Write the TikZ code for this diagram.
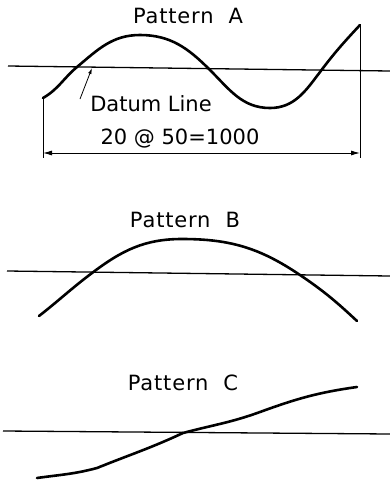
\documentclass[tikz,border=0pt]{standalone}
\usepackage{fontspec}
\setmainfont{DejaVu Sans}
\newfontfamily\lettering[LetterSpace=4]{DejaVu Sans}
\usetikzlibrary{arrows.meta}
\tikzset{
    title/.style={font=\lettering\fontsize{21}{24}\selectfont},
    label/.style={font=\fontsize{21}{24}\selectfont},
    datum/.style={line width=1.3pt},
    profile/.style={line width=2.6pt, line join=round, line cap=round},
    dimline/.style={line width=0.9pt}
}
\begin{document}
\begin{tikzpicture}[x=1pt, y=-1pt]
        \useasboundingbox (0,0) rectangle (390,483);

        % Pattern A
        \node[title] (titleA) at (188, 16) {Pattern\ \ A};
        \draw[datum] (8, 66) -- (390, 71);
        \draw[profile] (43,98) to[out=30, in=-140] (77,67) to[out=40, in=180] (140,35)
            to[out=0, in=135] (210,70) to[out=-45, in=180] (270,108)
            to[out=0, in=-127] (320,72) to[out=53, in=-133] (360,25);
        \coordinate (dimL) at (43, 153);
        \coordinate (dimR) at (360, 153);
        \draw[dimline] (43, 98) -- (43, 158);
        \draw[dimline] (360, 25) -- (360, 158);
        \draw[dimline, {Latex[length=9pt, width=5pt]}-{Latex[length=9pt, width=5pt]}] (dimL) -- (dimR);
        \node[label] (datumA) at (151, 104) {Datum Line};
        \coordinate (datumTip) at (92, 68);
        \draw[line width=0.8pt, -{Latex[length=6pt, width=3.5pt]}] (80, 99) -- (datumTip);
        \node[label] (spacing) at (180, 139) {20 @ 50=1000};

        % Pattern B
        \node[title] (titleB) at (185, 220) {Pattern\ \ B};
        \draw[datum] (7, 271) -- (390, 276);
        \draw[profile] (39,316) to[out=38, in=-143] (92,273) to[out=37, in=180] (182,239)
            to[out=0, in=146] (300,275) to[out=-34, in=137] (357,321);

        % Pattern C
        \node[title] (titleC) at (183, 383) {Pattern\ \ C};
        \draw[datum] (3, 431) -- (390, 434);
        \draw[profile] (37,478) to[out=8, in=-165] (97,468) to[out=22, in=-155] (183,433)
            to[out=15, in=-160] (260,412) to[out=20, in=-172] (357,387);
    \end{tikzpicture}
\end{document}
